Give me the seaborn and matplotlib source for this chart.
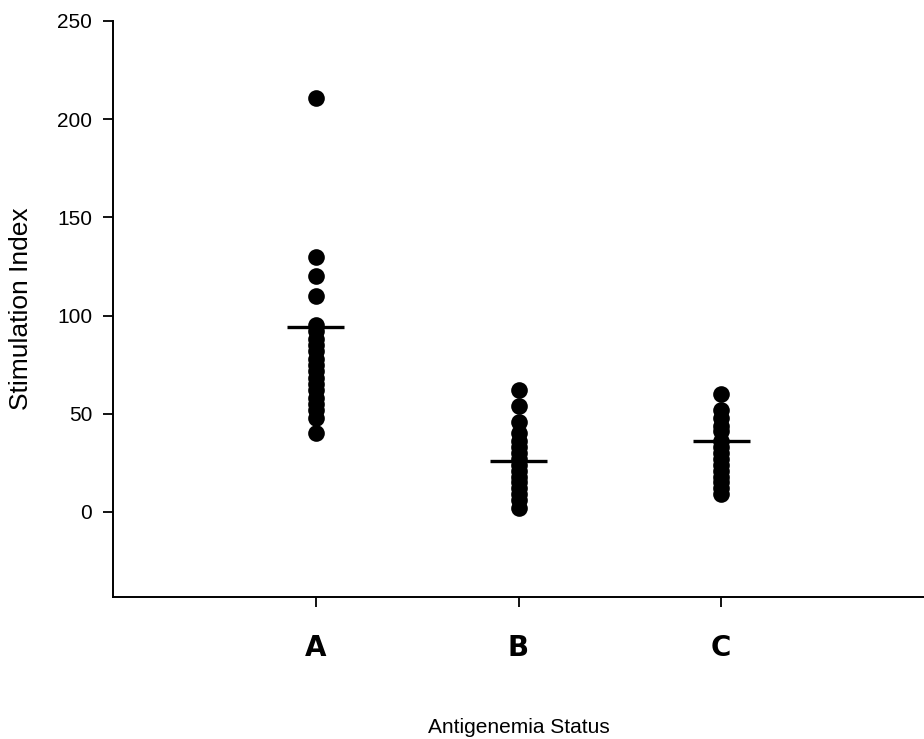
import pandas as pd
import matplotlib.pyplot as plt
import seaborn as sns

# Giá trị
groups = ['A', 'B', 'C']
values_a = [211, 130, 120, 110, 95, 92, 88, 85, 82, 78, 75, 72, 68, 65, 62, 58, 55, 52, 48, 40]
values_b = [62, 54, 46, 40, 36, 33, 30, 27, 24, 21, 18, 15, 12, 9, 6, 2]
values_c = [60, 52, 48, 44, 41, 36, 33, 30, 27, 24, 21, 18, 15, 12, 9]
mean_lines = [94, 26, 36]

df = pd.DataFrame({
    'status': ['A'] * len(values_a) + ['B'] * len(values_b) + ['C'] * len(values_c),
    'si': values_a + values_b + values_c,
})

sns.set_style('white')
plt.rcParams['font.family'] = ['Liberation Sans', 'DejaVu Sans']
plt.rcParams['text.color'] = 'black'
plt.rcParams['axes.labelcolor'] = 'black'
plt.rcParams['xtick.color'] = 'black'
plt.rcParams['ytick.color'] = 'black'

fig = plt.figure(figsize=(9.24, 7.39), dpi=100)
ax = fig.add_axes([0.1223, 0.1922, 0.8777, 0.7794])

sns.stripplot(data=df, x='status', y='si', order=groups, jitter=False,
              color='black', size=12, linewidth=0, ax=ax)

# Đường trung bình
ax.hlines(mean_lines, [i - 0.14 for i in range(3)], [i + 0.14 for i in range(3)],
          colors='black', linewidth=2.4, zorder=3)

ax.set_xlim(-1, 3)
ax.set_ylim(-43.3, 250)
ax.set_yticks([0, 50, 100, 150, 200, 250])
ax.tick_params(axis='y', direction='out', length=7, width=1.3, labelsize=15, pad=8, left=True)
ax.tick_params(axis='x', direction='out', length=7, width=1.3, pad=20, bottom=True)
for lab in ax.get_xticklabels():
    lab.set_fontfamily('DejaVu Sans')
    lab.set_fontweight('bold')
    lab.set_fontsize(20)

for side in ['top', 'right']:
    ax.spines[side].set_visible(False)
for side in ['left', 'bottom']:
    ax.spines[side].set_color('black')
    ax.spines[side].set_linewidth(1.4)

ax.set_xlabel('Antigenemia Status', fontsize=15, labelpad=40)
ax.set_ylabel('Stimulation Index', fontsize=19, labelpad=17)

fig.savefig('out.png', dpi=100)
